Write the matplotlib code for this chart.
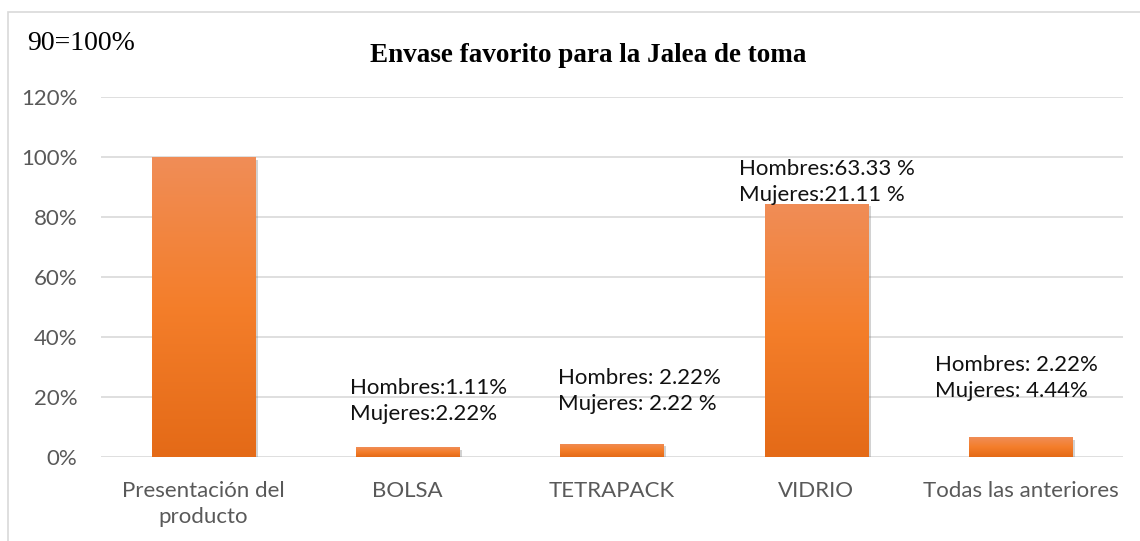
import numpy as np
import matplotlib.pyplot as plt
from matplotlib.colors import LinearSegmentedColormap
from matplotlib.patches import Rectangle
import matplotlib.patheffects as pe

# datos de la encuesta (90 personas = 100%)
categorias = ["Presentación del\nproducto", "BOLSA", "TETRAPACK", "VIDRIO", "Todas las anteriores"]
hombres = [None, 1.11, 2.22, 63.33, 2.22]
mujeres = [None, 2.22, 2.22, 21.11, 4.44]
valores = [100, 3.33, 4.44, 84.44, 6.66]
etiquetas = [None,
             "Hombres:1.11%\nMujeres:2.22%",
             "Hombres: 2.22%\nMujeres: 2.22 %",
             "Hombres:63.33 %\nMujeres:21.11 %",
             "Hombres: 2.22%\nMujeres: 4.44%"]
yticks = [0, 20, 40, 60, 80, 100, 120]

# posicion de las etiquetas respecto a cada barra
dx_etq = [0, -0.28, -0.265, -0.38, -0.42]
dy_etq = [0, 15.3, 17.6, 7.2, 19.7]

fig = plt.figure(figsize=(11.4, 5.41), dpi=100)
W, H = 1140, 541

# marco del grafico
fig.patches.append(Rectangle((8/W, -0.1), 1.2, 1.1 - 12/H, transform=fig.transFigure,
                             fill=False, edgecolor="#D9D9D9", lw=1.2))

ax = fig.add_axes([101/W, 1-457/H, (1123-101)/W, (457-97)/H])
x = np.arange(len(categorias))
ax.set_xlim(-0.5, len(categorias)-0.5)
ax.set_ylim(0, 120)

for y in yticks:
    ax.axhline(y, color="#D9D9D9", lw=1.2, zorder=0)

cmap = LinearSegmentedColormap.from_list("nar", ["#E46A17", "#F47E2A", "#F08D57"])
grad = np.linspace(0, 1, 256).reshape(-1, 1)
bars = ax.bar(x, valores, width=0.505, color="none", zorder=2)
for b in bars:
    x0, y0, w, h = b.get_x(), b.get_y(), b.get_width(), b.get_height()
    sh = Rectangle((x0, y0), w, h, facecolor="#F47E2A", edgecolor="none", zorder=1,
                   path_effects=[pe.SimplePatchShadow(offset=(2, -2), shadow_rgbFace="#808080", alpha=0.35),
                                 pe.Normal()])
    ax.add_patch(sh)
    im = ax.imshow(grad, cmap=cmap, extent=(x0, x0+w, y0, y0+h), aspect="auto",
                   origin="lower", zorder=3)
    im.set_clip_path(b)

for i, t in enumerate(etiquetas):
    if t is None:
        continue
    ax.text(i + dx_etq[i], valores[i] + dy_etq[i], t, fontsize=16, family="Lato",
            color="#111111", ha="left", va="center", linespacing=1.4, zorder=4)

ax.set_xticks(x)
ax.set_xticklabels(categorias, fontsize=16, family="Lato", color="#595959", linespacing=1.4)
ax.set_yticks(yticks)
ax.set_yticklabels([f"{v}%" for v in yticks], fontsize=16, family="Lato", color="#595959")
ax.tick_params(length=0)
ax.tick_params(axis="x", pad=17)
ax.tick_params(axis="y", pad=17)
for s in ax.spines.values():
    s.set_visible(False)

fig.text(588/W, 1-55/H, "Envase favorito para la Jalea de toma", fontsize=19.5, weight="bold",
         family="Liberation Serif", ha="center", va="center")
fig.text(27/W, 1-43/H, "90=100%", fontsize=20, family="Liberation Serif", ha="left", va="center")

fig.savefig("out.png", dpi=100)
